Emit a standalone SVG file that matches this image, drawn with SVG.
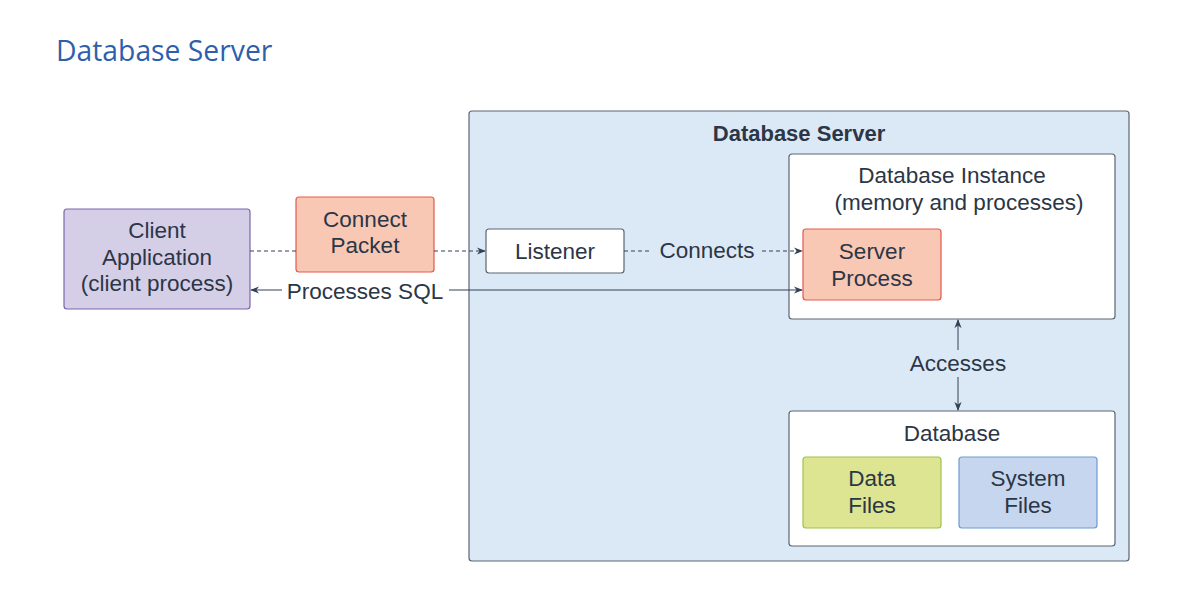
<svg xmlns="http://www.w3.org/2000/svg" width="1200" height="604" viewBox="0 0 1200 604">
<defs>
<marker id="ah" viewBox="0 0 10 10" refX="9" refY="5" markerWidth="9" markerHeight="9" markerUnits="userSpaceOnUse" orient="auto-start-reverse">
<path d="M0,1 L10,5 L0,9 L3,5 Z" fill="#334155"/>
</marker>
<style>
.t{font-family:"Liberation Sans",Arial,sans-serif;font-size:22.5px;fill:#2b3646;text-anchor:middle;dominant-baseline:central}
.b{font-weight:bold;font-size:22px}
.c{stroke:#334155;stroke-width:1;fill:none}
.d{stroke-dasharray:4 3}
.w{fill:#ffffff;stroke:#5c6673;stroke-width:1.2}
.o{fill:#f8c8b4;stroke:#e15a4c;stroke-width:1.2}
</style>
</defs>
<rect width="1200" height="604" fill="#ffffff"/>
<text x="56" y="50" style="font-family:'Open Sans','Noto Sans',sans-serif;font-size:28.3px;fill:#2e5fad;dominant-baseline:central">Database Server</text>

<g id="server">
<rect x="469" y="111" width="660" height="450" rx="3" fill="#dbe8f5" stroke="#5c6673" stroke-width="1.2"/>
<text class="t b" x="799" y="133">Database Server</text>
</g>
<g id="client">
<rect x="64" y="209" width="186" height="100" rx="3" fill="#d5cee7" stroke="#7b66ad" stroke-width="1.2"/>
<text class="t" x="157" y="230">Client</text>
<text class="t" x="157" y="257">Application</text>
<text class="t" x="157" y="283">(client process)</text>
</g>
<g id="packet">
<rect class="o" x="296" y="197" width="138" height="75" rx="3"/>
<text class="t" x="365" y="219">Connect</text>
<text class="t" x="365" y="245">Packet</text>
</g>
<g id="listener">
<rect class="w" x="486" y="229" width="138" height="44" rx="3"/>
<text class="t" x="555" y="251">Listener</text>
</g>
<g id="instance">
<rect class="w" x="789" y="154" width="326" height="165" rx="3"/>
<text class="t" x="952" y="175">Database Instance</text>
<text class="t" x="959" y="202">(memory and processes)</text>
</g>
<g id="serverprocess">
<rect class="o" x="803" y="229" width="138" height="71" rx="3"/>
<text class="t" x="872" y="251">Server</text>
<text class="t" x="872" y="278">Process</text>
</g>
<g id="database">
<rect class="w" x="789" y="411" width="326" height="135" rx="3"/>
<text class="t" x="952" y="433">Database</text>
</g>
<g id="datafiles">
<rect x="803" y="457" width="138" height="71" rx="3" fill="#dde592" stroke="#9ec449" stroke-width="1.2"/>
<text class="t" x="872" y="478">Data</text>
<text class="t" x="872" y="505">Files</text>
</g>
<g id="systemfiles">
<rect x="959" y="457" width="138" height="71" rx="3" fill="#c6d6ee" stroke="#6b9bd2" stroke-width="1.2"/>
<text class="t" x="1028" y="478">System</text>
<text class="t" x="1028" y="505">Files</text>
</g>

<g id="connectors">
<line class="c d" x1="250" y1="251" x2="296" y2="251"/>
<line class="c d" x1="434" y1="251" x2="485" y2="251" marker-end="url(#ah)"/>
<line class="c d" x1="624" y1="251" x2="652" y2="251"/>
<line class="c d" x1="762" y1="251" x2="802" y2="251" marker-end="url(#ah)"/>
<text class="t" x="707" y="250">Connects</text>
<line class="c" x1="251" y1="290" x2="282" y2="290" marker-start="url(#ah)"/>
<line class="c" x1="449" y1="290" x2="802" y2="290" marker-end="url(#ah)"/>
<text class="t" x="365" y="291">Processes SQL</text>
<line class="c" x1="958" y1="320" x2="958" y2="350" marker-start="url(#ah)"/>
<line class="c" x1="958" y1="377" x2="958" y2="410" marker-end="url(#ah)"/>
<text class="t" x="958" y="363">Accesses</text>
</g>
</svg>
